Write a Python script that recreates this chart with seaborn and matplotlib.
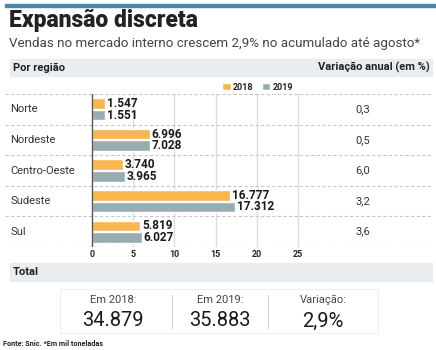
import matplotlib
matplotlib.use("Agg")
import matplotlib.pyplot as plt
import matplotlib.patheffects as pe
from matplotlib.patches import Rectangle
from matplotlib.lines import Line2D
import pandas as pd
import seaborn as sns

# dados (mil toneladas)
regioes = ["Norte", "Nordeste", "Centro-Oeste", "Sudeste", "Sul"]
vendas_2018 = [1547, 6996, 3740, 16777, 5819]
vendas_2019 = [1551, 7028, 3965, 17312, 6027]
variacao = [0.3, 0.5, 6.0, 3.2, 3.6]
anos = ["2018", "2019"]
xticks = [0, 5, 10, 15, 20, 25]
total_rotulos = ["Em 2018:", "Em 2019:", "Variação:"]
total_valores = ["34.879", "35.883", "2,9%"]

cores = ["#f8b653", "#98adb2"]
W, H = 436, 350
BODY = ["Roboto", "DejaVu Sans"]
TITLE = ["Roboto", "DejaVu Sans"]


def fx(x):
    return x / W


def fy(y):
    return 1 - y / H


def br(v):
    return "{:,}".format(v).replace(",", ".")


sns.set_theme(style="white")
plt.rcParams["font.family"] = BODY
plt.rcParams["text.color"] = "#222222"

fig = plt.figure(figsize=(4.36, 3.5), dpi=100)

# faixa azul no topo
fig.patches.append(Rectangle((fx(5), fy(6.5)), fx(436) - fx(5), 3 / H,
                             transform=fig.transFigure, color="#4a86aa", zorder=0))
fig.text(fx(9), fy(20), "Expansão discreta", fontsize=16.5, fontweight="black",
         family=TITLE, va="center")
fig.text(fx(9), fy(43), "Vendas no mercado interno crescem 2,9% no acumulado até agosto*",
         fontsize=9.6, fontweight="normal", va="center", color="#444444")

# faixas cinza
for y0, y1, rotulo in [(59, 76, "Por região"), (263, 281, "Total")]:
    fig.patches.append(Rectangle((fx(10), fy(y1)), fx(432) - fx(10), (y1 - y0) / H,
                                 transform=fig.transFigure, color="#e9edf0", zorder=0))
    fig.text(fx(13), fy((y0 + y1) / 2), rotulo, fontweight="bold", fontsize=8, va="center")
fig.text(fx(430), fy(67.5), "Variação anual (em %)", fontweight="bold", fontsize=8,
         va="center", ha="right")

# barras
ax = fig.add_axes([fx(5), fy(247), fx(432) - fx(5), (247 - 94) / H])
df = pd.DataFrame({
    "regiao": regioes * 2,
    "ano": [anos[0]] * len(regioes) + [anos[1]] * len(regioes),
    "valor": [v / 1000 for v in vendas_2018 + vendas_2019],
})
sns.barplot(data=df, y="regiao", x="valor", hue="ano", order=regioes, hue_order=anos,
            palette=cores, orient="h", width=0.76, gap=0.1, saturation=1, ax=ax, zorder=2)

ppu = (298 - 92) / 25
ax.set_xlim(-(92 - 5) / ppu, (432 - 92) / ppu)
ax.set_ylim(len(regioes) - 0.5, -0.5)
for s in ax.spines.values():
    s.set_visible(False)

for cont, vals in zip(ax.containers, [vendas_2018, vendas_2019]):
    ax.bar_label(cont, labels=[br(v) for v in vals], padding=1.5, fontsize=8.5,
                 fontweight="bold", color="#1a1a1a")

for i in range(len(regioes) + 1):
    ax.axhline(i - 0.5, color="#c8c8c8", lw=0.8, ls=(0, (3, 2)), zorder=1)
for t in xticks[1:]:
    ax.axvline(t, color="#dddddd", lw=1, zorder=0)
ax.axvline(0, color="#555555", lw=1, zorder=3)

ax.set_xticks(xticks)
ax.set_xticklabels([str(t) for t in xticks], fontsize=6.5, fontweight="bold")
ax.tick_params(axis="x", length=0, pad=2)
ax.set_yticks([])
ax.set_xlabel("")
ax.set_ylabel("")

for i, (r, v) in enumerate(zip(regioes, variacao)):
    ax.text(0.012, i, r, va="center", fontsize=8, color="#333333",
            transform=ax.get_yaxis_transform())
    ax.text(0.838, i, "{:.1f}".format(v).replace(".", ","), va="center", ha="center",
            fontsize=8, color="#333333", transform=ax.get_yaxis_transform())

sns.move_legend(ax, "center", bbox_to_anchor=(0.592, 1.045), ncol=2, frameon=False,
                title=None, handlelength=0.9, handleheight=0.9, handletextpad=0.3,
                columnspacing=0.9, prop={"weight": "bold", "size": 6.5})

# caixa do total
caixa = Rectangle((fx(60), fy(333)), fx(378) - fx(60), (333 - 289) / H,
                  transform=fig.transFigure, facecolor="white", edgecolor="#eeeeee", lw=0.8,
                  path_effects=[pe.withSimplePatchShadow(offset=(0.8, -0.8), shadow_rgbFace="#cccccc",
                                                         alpha=0.5)])
fig.patches.append(caixa)
for xs in [172, 268]:
    fig.add_artist(Line2D([fx(xs)] * 2, [fy(295), fy(328)], color="#d0d0d0", lw=0.8))
for xc, rot, val in zip([113, 220, 323], total_rotulos, total_valores):
    fig.text(fx(xc), fy(300), rot, ha="center", va="center", fontsize=8,
             fontweight="normal", color="#444444")
    fig.text(fx(xc), fy(321), val, ha="center", va="center", fontsize=14.5,
             fontweight="normal", color="#1a1a1a")

fig.text(fx(3), fy(344), "Fonte: Snic. *Em mil toneladas", fontsize=5.2, fontweight="bold",
         va="center")

fig.savefig("out.png", dpi=100)
